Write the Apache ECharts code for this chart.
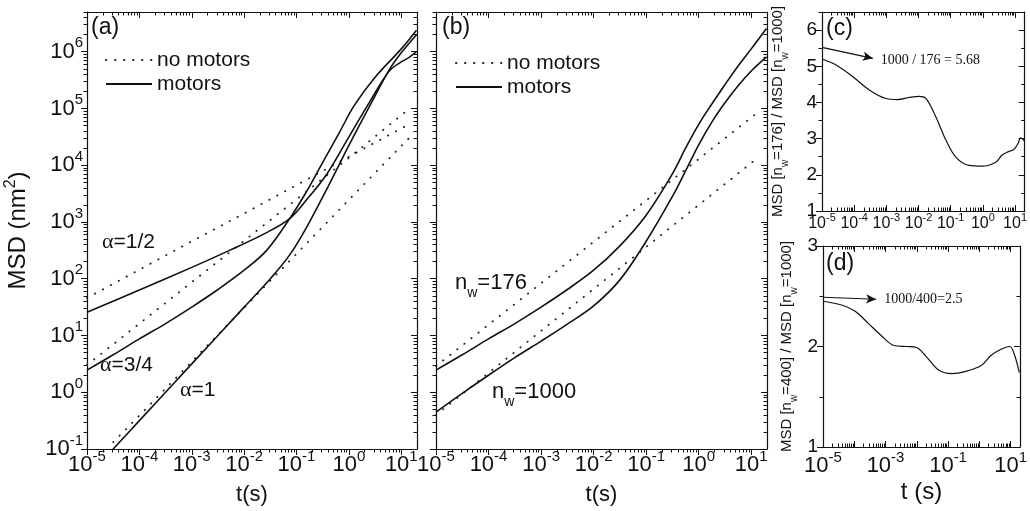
<!DOCTYPE html>
<html>
<head>
<meta charset="utf-8">
<script src="https://cdn.jsdelivr.net/npm/echarts@6/dist/echarts.min.js"></script>
<style>
  html, body { margin: 0; padding: 0; background: #fff; }
  #chart { width: 1030px; height: 511px; }
</style>
</head>
<body>
<div id="chart"></div>
<script>
const FONT = "'Liberation Sans', Arial, sans-serif";
const SERIF = "'Liberation Serif', 'Times New Roman', serif";
const INK = '#111';

// all x values are log10 t(s), y values in (a)/(b) are log10 MSD (nm^2)
// (a) alpha = 1/2, 3/4, 1 : motors (solid) and no motors (dotted)
const aHalfMotT = [-5, -4, -3, -2.28, -1.6, -1.13, -0.8, -0.41, 0, 0.4, 0.77, 1.0, 1.15, 1.29];
const aHalfMotM = [1.41, 1.80, 2.20, 2.50, 2.80, 3.06, 3.40, 3.86, 4.50, 5.12, 5.66, 5.82, 5.90, 6.00];
const a3qMotT = [-5, -4.5, -4, -3.5, -3, -2.5, -2, -1.57, -1.13, -0.8, -0.5, -0.18, 0.1, 0.5, 1.0, 1.29];
const a3qMotM = [0.39, 0.66, 0.94, 1.21, 1.50, 1.81, 2.15, 2.50, 3.06, 3.55, 4.05, 4.58, 5.05, 5.55, 6.05, 6.38];
const aOneMotT = [-4.6, -4, -3, -2, -1.5, -1.13, -0.8, -0.4, 0, 0.4, 0.77, 1.0, 1.29];
const aOneMotM = [-1.1, -0.5, 0.5, 1.5, 2.0, 2.42, 2.92, 3.62, 4.35, 5.05, 5.68, 5.98, 6.30];

const aHalfFreeT = [-5, -4, -3, -2, -1, 0, 1, 1.15];
const aHalfFreeM = [1.66, 2.16, 2.66, 3.15, 3.65, 4.15, 4.65, 4.72];
const a3qFreeT = [-5, -4, -3, -2, -1, 0, 1, 1.15];
const a3qFreeM = [0.48, 1.21, 1.94, 2.67, 3.40, 4.13, 4.88, 4.99];
const aOneFreeT = [-4.5, -4, -3, -2, -1, 0, 1, 1.15];
const aOneFreeM = [-0.88, -0.41, 0.54, 1.49, 2.44, 3.39, 4.34, 4.48];

// (b) n_w = 176 and n_w = 1000
const bMotT = [-5, -4.5, -4, -3.5, -3, -2.5, -2, -1.5, -1, -0.5, -0.25, 0, 0.25, 0.5, 0.75, 1, 1.29];
const b176MotM = [0.39, 0.66, 0.94, 1.21, 1.50, 1.81, 2.15, 2.58, 3.12, 3.85, 4.30, 4.72, 5.08, 5.42, 5.75, 6.05, 6.41];
const b1000MotM = [-0.35, -0.02, 0.30, 0.61, 0.90, 1.20, 1.52, 1.98, 2.66, 3.45, 3.90, 4.36, 4.76, 5.10, 5.40, 5.66, 5.91];
const bFreeT = [-5, -4, -3, -2, -1, 0, 1, 1.15];
const b176FreeM = [0.46, 1.19, 1.92, 2.65, 3.38, 4.11, 4.84, 4.95];
const b1000FreeM = [-0.40, 0.34, 1.08, 1.82, 2.56, 3.30, 4.04, 4.15];

// (c) MSD[n_w=176] / MSD[n_w=1000]
const cT = [-5, -4.55, -4.04, -3.52, -3.01, -2.65, -2.28, -1.98, -1.77, -1.46, -1.15, -0.84, -0.43, -0.02, 0.4, 0.6, 0.8, 0.96, 1.1, 1.17, 1.3];
const cRatio = [5.2, 5.03, 4.71, 4.34, 4.11, 4.08, 4.14, 4.17, 4.11, 3.60, 2.96, 2.49, 2.26, 2.24, 2.35, 2.55, 2.64, 2.70, 2.88, 3.02, 2.93];
const cArrow = [[-5, 5.52], [-3.42, 5.22]];

// (d) MSD[n_w=400] / MSD[n_w=1000]
const dT = [-5, -4.38, -3.97, -3.55, -3.14, -2.73, -2.32, -2.01, -1.70, -1.28, -0.87, -0.46, 0.06, 0.37, 0.68, 0.97, 1.11, 1.28];
const dRatio = [2.45, 2.41, 2.35, 2.23, 2.11, 2.01, 2.0, 1.99, 1.90, 1.76, 1.73, 1.75, 1.81, 1.91, 1.97, 2.0, 1.93, 1.74];
const dArrow = [[-5, 2.49], [-3.30, 2.47]];

// tick values
const tDecades = [-5, -4, -3, -2, -1, 0, 1];
const tLabelsD = [-5, -3, -1, 1];
const msdDecades = [-1, 0, 1, 2, 3, 4, 5, 6];
const cTicks = [1, 2, 3, 4, 5, 6];
const cMinor = [1.5, 2.5, 3.5, 4.5, 5.5, 6.5];
const dTicks = [1, 2, 3];
const dMinor = [1.5, 2.5];

function logMinor(lo, hi) {
  const out = [];
  for (let n = Math.floor(lo); n < hi; n++) {
    for (let k = 2; k <= 9; k++) {
      const v = n + Math.log10(k);
      if (v > lo && v < hi) out.push(v);
    }
  }
  return out;
}

const pow = (big, sup, lh) => ({
  formatter: v => '{b|10}{s|' + Math.round(v) + '}',
  rich: {
    b: { fontSize: big, lineHeight: lh, color: INK, fontFamily: FONT },
    s: { fontSize: sup, lineHeight: sup, verticalAlign: 'top', color: INK, fontFamily: FONT }
  }
});

const axisLine = { onZero: false, lineStyle: { color: INK, width: 1.2 } };
const noLine = { show: false, onZero: false };
const tickStyle = { color: INK, width: 1 };

const xAxis = [], yAxis = [];
// main axis (labels) + minor ticks + opposite frame side with inner ticks
function addAxes(list, g, pos, opp, c) {
  const base = { gridIndex: g, type: 'value', min: c.min, max: c.max, splitLine: { show: false } };
  const main = list.length;
  list.push(Object.assign({}, base, {
    position: pos, axisLine,
    axisTick: { inside: c.inside, length: 6, customValues: c.major, lineStyle: tickStyle },
    axisLabel: c.label ? Object.assign({ customValues: c.labels || c.major, margin: c.margin }, c.label) : { show: false },
    name: c.name || '', nameLocation: 'middle', nameGap: c.nameGap, nameRotate: c.nameRotate,
    nameTextStyle: c.nameStyle
  }));
  list.push(Object.assign({}, base, {
    position: pos, axisLine: noLine,
    axisTick: { inside: c.inside, length: 3.5, customValues: c.minor, lineStyle: tickStyle },
    axisLabel: { show: false }
  }));
  list.push(Object.assign({}, base, {
    position: opp, axisLine,
    axisTick: { inside: true, length: 6, customValues: c.major, lineStyle: tickStyle },
    axisLabel: { show: false }
  }));
  list.push(Object.assign({}, base, {
    position: opp, axisLine: noLine,
    axisTick: { inside: true, length: 3.5, customValues: c.minor, lineStyle: tickStyle },
    axisLabel: { show: false }
  }));
  return main;
}

const tMinor = logMinor(-5, 1.3);
const msdMinor = logMinor(-1, 6.7);
const tName = { fontSize: 22, color: INK, fontFamily: FONT };
const msdName = {
  rich: {
    a: { fontSize: 24, lineHeight: 30, color: INK, fontFamily: FONT },
    s: { fontSize: 16, lineHeight: 16, verticalAlign: 'top', color: INK, fontFamily: FONT }
  }
};
const ratioName = {
  rich: {
    t: { fontSize: 15, lineHeight: 24, color: INK, fontFamily: FONT },
    w: { fontSize: 10, lineHeight: 10, verticalAlign: 'bottom', color: INK, fontFamily: FONT }
  }
};

// (a)
const xa = addAxes(xAxis, 0, 'bottom', 'top', { min: -5, max: 1.3, major: tDecades, minor: tMinor, inside: false,
  label: pow(22, 15, 32), margin: 0, name: 't(s)', nameGap: 35, nameStyle: tName });
const ya = addAxes(yAxis, 0, 'left', 'right', { min: -1, max: 6.7, major: msdDecades, minor: msdMinor, inside: false,
  label: pow(22, 15, 32), margin: 4, name: '{a|MSD (nm}{s|2}{a|)}', nameGap: 54, nameRotate: 90, nameStyle: msdName });
// (b)
const xb = addAxes(xAxis, 1, 'bottom', 'top', { min: -5, max: 1.3, major: tDecades, minor: tMinor, inside: false,
  label: pow(22, 15, 32), margin: 0, name: 't(s)', nameGap: 35, nameStyle: tName });
const yb = addAxes(yAxis, 1, 'left', 'right', { min: -1, max: 6.7, major: msdDecades, minor: msdMinor, inside: false });
// (c)
const xc = addAxes(xAxis, 2, 'bottom', 'top', { min: -5, max: 1.3, major: tDecades, minor: tMinor, inside: true,
  label: pow(16, 11, 24), margin: 1 });
const yc = addAxes(yAxis, 2, 'left', 'right', { min: 1, max: 6.5, major: cTicks, minor: cMinor, inside: false,
  label: { fontSize: 19, color: INK, fontFamily: FONT }, margin: 5,
  name: '{t|MSD [n}{w|w}{t|=176] / MSD [n}{w|w}{t|=1000]}', nameGap: 32, nameRotate: 90, nameStyle: ratioName });
// (d)
const xd = addAxes(xAxis, 3, 'bottom', 'top', { min: -5, max: 1.3, major: tDecades, minor: tMinor, inside: true,
  labels: tLabelsD, label: pow(22, 15, 32), margin: 3, name: 't (s)', nameGap: 33, nameStyle: { fontSize: 24, color: INK, fontFamily: FONT } });
const yd = addAxes(yAxis, 3, 'left', 'right', { min: 1, max: 3, major: dTicks, minor: dMinor, inside: false,
  label: { fontSize: 19, color: INK, fontFamily: FONT }, margin: 5,
  name: '{t|MSD [n}{w|w}{t|=400] / MSD [n}{w|w}{t|=1000]}', nameGap: 24, nameRotate: 90, nameStyle: ratioName });

const zip = (T, V) => T.map((t, i) => [t, V[i]]);

function curve(name, xi, yi, T, V, dotted) {
  return {
    type: 'line', name, xAxisIndex: xi, yAxisIndex: yi, data: zip(T, V),
    symbol: 'none', smooth: dotted ? false : 0.35, silent: true,
    itemStyle: { color: INK },
    lineStyle: dotted
      ? { color: '#222', width: 1.8, type: [0.4, 8.6], cap: 'round' }
      : { color: INK, width: 1.6 }
  };
}

function arrowMark(pts, text) {
  return {
    silent: true, symbol: ['none', 'arrow'], symbolSize: [7, 10],
    lineStyle: { color: INK, width: 1.2, type: 'solid' },
    label: { show: true, position: 'end', distance: 8, formatter: text, fontFamily: SERIF, fontSize: 14, color: INK },
    data: [[{ coord: pts[0] }, { coord: pts[1] }]]
  };
}

const series = [
  curve('no motors', xa, ya, aHalfFreeT, aHalfFreeM, true),
  curve('no motors', xa, ya, a3qFreeT, a3qFreeM, true),
  curve('no motors', xa, ya, aOneFreeT, aOneFreeM, true),
  curve('motors', xa, ya, aHalfMotT, aHalfMotM, false),
  curve('motors', xa, ya, a3qMotT, a3qMotM, false),
  curve('motors', xa, ya, aOneMotT, aOneMotM, false),
  curve('no motors', xb, yb, bFreeT, b176FreeM, true),
  curve('no motors', xb, yb, bFreeT, b1000FreeM, true),
  curve('motors', xb, yb, bMotT, b176MotM, false),
  curve('motors', xb, yb, bMotT, b1000MotM, false),
  Object.assign(curve('ratio176', xc, yc, cT, cRatio, false), { lineStyle: { color: INK, width: 1.2 }, markLine: arrowMark(cArrow, '1000 / 176 = 5.68') }),
  Object.assign(curve('ratio400', xd, yd, dT, dRatio, false), { lineStyle: { color: INK, width: 1.2 }, markLine: arrowMark(dArrow, '1000/400=2.5') })
];

const legendBase = {
  orient: 'vertical', itemWidth: 46, itemHeight: 12, itemGap: 0, selectedMode: false,
  itemStyle: { opacity: 0 },
  textStyle: { fontSize: 21, lineHeight: 24, color: INK, fontFamily: FONT },
  data: ['no motors', 'motors']
};

const alphaRich = {
  g: { fontSize: 22, lineHeight: 24, fontFamily: SERIF, fill: INK },
  t: { fontSize: 21, lineHeight: 24, fontFamily: FONT, fill: INK }
};
const nwRich = {
  n: { fontSize: 22, lineHeight: 34, fontFamily: FONT, fill: INK },
  w: { fontSize: 14, lineHeight: 14, verticalAlign: 'bottom', fontFamily: FONT, fill: INK }
};
const panelText = (txt, x, y) => ({ type: 'text', left: x, top: y, style: { text: txt, fontSize: 23, fontFamily: FONT, fill: INK } });
const richText = (txt, x, y, rich) => ({ type: 'text', left: x, top: y, style: { text: txt, rich, fill: INK } });

const option = {
  animation: false,
  backgroundColor: '#fff',
  textStyle: { fontFamily: FONT, color: INK },
  grid: [
    { left: 87, top: 12, width: 330, height: 437 },
    { left: 436, top: 12, width: 331, height: 437 },
    { left: 822, top: 12, width: 203, height: 199 },
    { left: 823, top: 246, width: 202, height: 201 }
  ],
  xAxis, yAxis,
  legend: [
    Object.assign({ left: 100, top: 43 }, legendBase),
    Object.assign({ left: 450, top: 46 }, legendBase)
  ],
  graphic: [
    panelText('(a)', 91, 16),
    panelText('(b)', 442, 16),
    panelText('(c)', 826, 17),
    panelText('(d)', 826, 252),
    richText('{g|α}{t|=1/2}', 102, 231, alphaRich),
    richText('{g|α}{t|=3/4}', 100, 354, alphaRich),
    richText('{g|α}{t|=1}', 180, 379, alphaRich),
    richText('{n|n}{w|w}{n|=176}', 455, 272, nwRich),
    richText('{n|n}{w|w}{n|=1000}', 492, 381, nwRich)
  ],
  series
};

const chart = echarts.init(document.getElementById('chart'), null, { renderer: 'canvas' });
chart.setOption(option);
</script>
</body>
</html>
